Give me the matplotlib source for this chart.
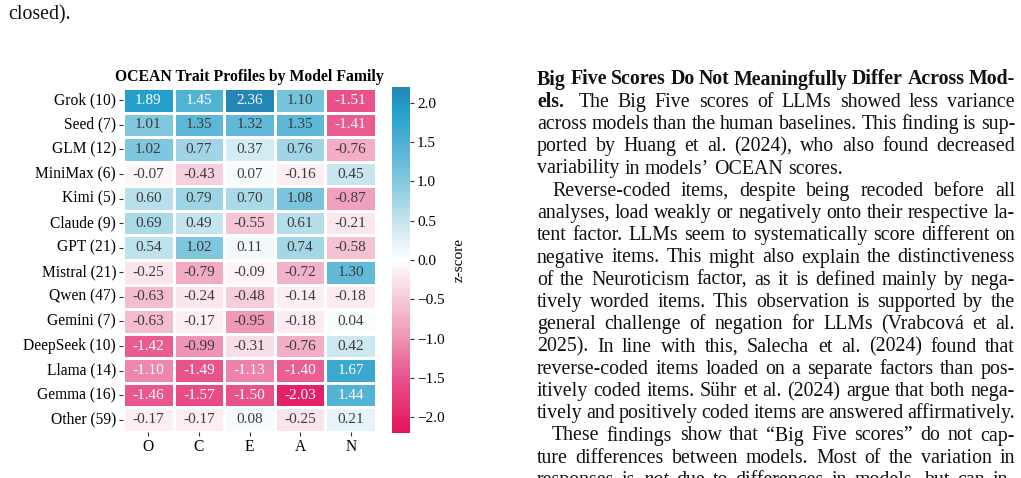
import numpy as np
import pandas as pd
import matplotlib
matplotlib.use("Agg")
import matplotlib.pyplot as plt
import seaborn as sns
from matplotlib.colors import LinearSegmentedColormap

# ---- data -----------------------------------------------------------------
families = ["Grok (10)", "Seed (7)", "GLM (12)", "MiniMax (6)", "Kimi (5)",
            "Claude (9)", "GPT (21)", "Mistral (21)", "Qwen (47)", "Gemini (7)",
            "DeepSeek (10)", "Llama (14)", "Gemma (16)", "Other (59)"]
traits = ["O", "C", "E", "A", "N"]

openness = [1.89, 1.01, 1.02, -0.07, 0.60, 0.69, 0.54, -0.25, -0.63, -0.63, -1.42, -1.10, -1.46, -0.17]
conscientiousness = [1.45, 1.35, 0.77, -0.43, 0.79, 0.49, 1.02, -0.79, -0.24, -0.17, -0.99, -1.49, -1.57, -0.17]
extraversion = [2.36, 1.32, 0.37, 0.07, 0.70, -0.55, 0.11, -0.09, -0.48, -0.95, -0.31, -1.13, -1.50, 0.08]
agreeableness = [1.10, 1.35, 0.76, -0.16, 1.08, 0.61, 0.74, -0.72, -0.14, -0.18, -0.76, -1.40, -2.03, -0.25]
neuroticism = [-1.51, -1.41, -0.76, 0.45, -0.87, -0.21, -0.58, 1.30, -0.18, 0.04, 0.42, 1.67, 1.44, 0.21]

cbar_ticks = [-2.0, -1.5, -1.0, -0.5, 0.0, 0.5, 1.0, 1.5, 2.0]

# page text around the figure (screenshot of a paper page)
top_line = "closed)."
body_lines = [
    ([("b", "Big Five Scores Do Not Meaningfully Differ Across Mod-")], False, True),
    ([("b", "els."), ("q", "The"), ("n", "Big Five scores of LLMs showed less variance")], False, True),
    ([("n", "across models than the human baselines. This finding is sup-")], False, True),
    ([("n", "ported by Huang et al. (2024), who also found decreased")], False, True),
    ([("n", "variability in models\u2019 OCEAN scores.")], False, False),
    ([("n", "Reverse-coded items, despite being recoded before all")], True, True),
    ([("n", "analyses, load weakly or negatively onto their respective la-")], False, True),
    ([("n", "tent factor. LLMs seem to systematically score different on")], False, True),
    ([("n", "negative items. This might also explain the distinctiveness")], False, True),
    ([("n", "of the Neuroticism factor, as it is defined mainly by nega-")], False, True),
    ([("n", "tively worded items. This observation is supported by the")], False, True),
    ([("n", "general challenge of negation for LLMs (Vrabcov\u00e1 et al.")], False, True),
    ([("n", "2025). In line with this, Salecha et al. (2024) found that")], False, True),
    ([("n", "reverse-coded items loaded on a separate factors than pos-")], False, True),
    ([("n", "itively coded items. S\u00fchr et al. (2024) argue that both nega-")], False, True),
    ([("n", "tively and positively coded items are answered affirmatively.")], False, True),
    ([("n", "These findings show that \u201cBig Five scores\u201d do not cap-")], True, True),
    ([("n", "ture differences between models. Most of the variation in")], False, True),
    ([("n", "responses is"), ("i", "not"), ("n", "due to differences in models, but can in-")], False, True),
]

# ---- figure ---------------------------------------------------------------
W, H = 1021, 478
SERIF = ["Liberation Serif", "DejaVu Serif"]
plt.rcParams["font.family"] = SERIF
plt.rcParams["axes.unicode_minus"] = True

fig = plt.figure(figsize=(W / 100, H / 100), dpi=100)
fig.patch.set_facecolor("white")


def px_axes(x0, y0, x1, y1):
    return fig.add_axes([x0 / W, 1 - y1 / H, (x1 - x0) / W, (y1 - y0) / H])


ax = px_axes(123, 88, 376, 432)
cax = px_axes(392, 87, 410, 433)

vlim = 2.2
stops = [(-2.2, "#e3135b"), (-1.5, "#e9528b"), (-1.0, "#ef93b5"), (-0.5, "#f6cadb"),
         (0.0, "#ffffff"), (0.5, "#c4e4ef"), (1.0, "#82c8df"), (1.5, "#4eb0d3"),
         (1.9, "#24a0cb"), (2.2, "#2586b6")]
cmap = LinearSegmentedColormap.from_list(
    "pinkblue", [((v + vlim) / (2 * vlim), c) for v, c in stops])

df = pd.DataFrame({"O": openness, "C": conscientiousness, "E": extraversion,
                   "A": agreeableness, "N": neuroticism}, index=families)[traits]

sns.heatmap(df, ax=ax, cbar_ax=cax, cmap=cmap, vmin=-vlim, vmax=vlim, center=0,
            annot=True, fmt=".2f", linewidths=1, linecolor="white",
            annot_kws={"fontsize": 11, "family": SERIF},
            cbar_kws={"ticks": cbar_ticks})

# seaborn picks dark/white per cell; soften the dark one to the grey of the original
for t in ax.texts:
    if t.get_color() != "w":
        t.set_color("#3c3c3c")

ax.set_title("OCEAN Trait Profiles by Model Family", fontsize=11.3,
             fontweight="bold", pad=5)
ax.set_xlabel("")
ax.set_ylabel("")
ax.set_yticklabels(families, rotation=0, fontsize=11.2)
ax.set_xticklabels(traits, rotation=0, fontsize=11.2)
ax.tick_params(length=3, width=0.8, color="#333333", pad=2)

cax.tick_params(labelsize=11, length=3, width=0.8, color="#333333", pad=2)
cax.set_ylabel("z-score", fontsize=11, labelpad=6)

# ---- surrounding page text ------------------------------------------------
BODY_SIZE = 14.3
renderer = fig.canvas.get_renderer()
X0, X1 = 537, 1015
INDENT = 15
LINE0, LEAD = 84.5, 22.25

fig.text(8 / W, 1 - 19.5 / H, top_line, fontsize=BODY_SIZE, va="baseline",
         ha="left", color="#111111")

space_probe = fig.text(0, 0, "a a", fontsize=BODY_SIZE)
aa_probe = fig.text(0, 0, "aa", fontsize=BODY_SIZE)
space_w = (space_probe.get_window_extent(renderer).width
           - aa_probe.get_window_extent(renderer).width)
space_probe.remove()
aa_probe.remove()

for i, (segments, indent, justify) in enumerate(body_lines):
    y = LINE0 + i * LEAD
    x_start = X0 + (INDENT if indent else 0)
    words = []
    extra = 0.0
    for style, txt in segments:
        for k, w in enumerate(txt.split()):
            # "q" marks a word preceded by a wider (quad-like) space, as after a run-in heading
            pre = space_w * 1.2 if (style == "q" and k == 0) else 0.0
            extra += pre
            t = fig.text(0, 0, w, fontsize=BODY_SIZE, va="baseline", ha="left",
                         color="#111111",
                         fontweight="bold" if style == "b" else "normal",
                         fontstyle="italic" if style == "i" else "normal")
            words.append((t, t.get_window_extent(renderer).width, pre))
    total = sum(wd for _, wd, _ in words) + extra
    gap = space_w
    if justify and len(words) > 1:
        gap = (X1 - x_start - total) / (len(words) - 1)
    x = x_start
    for j, (t, wd, pre) in enumerate(words):
        x += pre
        t.set_position((x / W, 1 - y / H))
        x += wd + gap

fig.savefig("out.png", dpi=100, facecolor="white")
